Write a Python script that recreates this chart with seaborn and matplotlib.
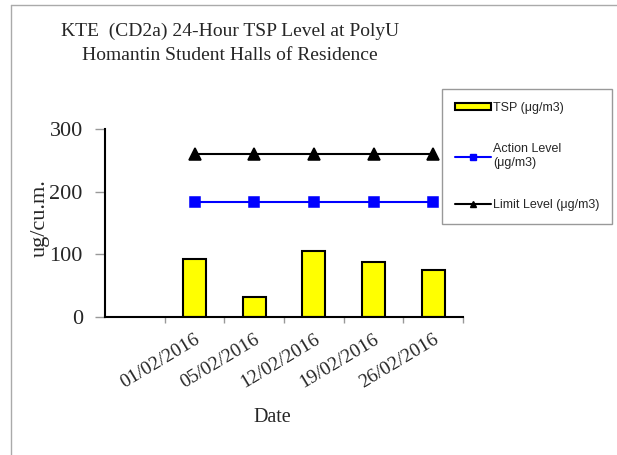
import matplotlib
matplotlib.use("Agg")
import matplotlib.pyplot as plt
import seaborn as sns
import numpy as np
from matplotlib.lines import Line2D
from matplotlib.patches import Patch

dates = ["01/02/2016", "05/02/2016", "12/02/2016", "19/02/2016", "26/02/2016"]
tsp = [93, 32, 106, 88, 75]
action_level = [183, 183, 183, 183, 183]
limit_level = [260, 260, 260, 260, 260]
order = [""] + dates

sns.set_style("white")
plt.rcParams["font.family"] = ["Liberation Serif", "DejaVu Serif"]

fig = plt.figure(figsize=(6.17, 4.55), dpi=100)
ax = fig.add_axes([105/617, 1-317/455, (463-105)/617, (317-129)/455])

sns.barplot(x=dates, y=tsp, order=order, color="#FFFF00", edgecolor="black",
            linewidth=1.5, width=0.39, saturation=1, ax=ax, zorder=2)
sns.pointplot(x=dates, y=action_level, order=order, color="#0000FF", markers="s",
              markersize=7, linewidth=1.5, ax=ax, zorder=3)
sns.pointplot(x=dates, y=limit_level, order=order, color="black", markers="^",
              markersize=8, linewidth=1.5, ax=ax, zorder=3)

ax.set_xlim(-0.5, 5.5)
ax.set_ylim(0, 300)
ax.set_yticks([0, 100, 200, 300])
ax.set_xlabel("")
ax.set_ylabel("")
for s in ["top", "right"]:
    ax.spines[s].set_visible(False)
for s in ["left", "bottom"]:
    ax.spines[s].set_color("black")
    ax.spines[s].set_linewidth(1.5)

ax.tick_params(axis="y", which="major", direction="out", length=7, width=1,
               color="#999999", labelsize=16, pad=9, left=True)
ax.set_xticks(range(len(order)))
ax.set_xticklabels(order, rotation=31, ha="right", rotation_mode="anchor",
                   fontsize=14)
ax.tick_params(axis="x", which="major", length=0, pad=10)
ax.set_xticks(np.arange(0.5, 5.6, 1.0), minor=True)
ax.tick_params(axis="x", which="minor", direction="out", length=4, width=1,
               color="#999999", bottom=True)

# Title and axis labels
fig.text(230/617, 1-23/455,
         "KTE  (CD2a) 24-Hour TSP Level at PolyU\nHomantin Student Halls of Residence",
         ha="center", va="top", fontsize=14, linespacing=1.5)
fig.text(40/617, 1-218/455, "ug/cu.m.", rotation=90, ha="center", va="center",
         fontsize=16)
fig.text(272/617, 1-417/455, "Date", ha="center", va="center", fontsize=14.5)

# Legend
handles = [
    Patch(facecolor="#FFFF00", edgecolor="black", linewidth=1.5),
    Line2D([], [], color="#0000FF", marker="s", markersize=5, linewidth=1.5),
    Line2D([], [], color="black", marker="^", markersize=5, linewidth=1.5),
]
labels = ["TSP (μg/m3)", "Action Level\n(μg/m3)", "Limit Level (μg/m3)"]
leg = fig.legend(handles, labels, loc="upper left",
                 bbox_to_anchor=(442/617, 1-89/455),
                 prop={"family": "Liberation Sans", "size": 9},
                 frameon=True, fancybox=False, edgecolor="#999999",
                 framealpha=1, handlelength=2.9, handleheight=0.5,
                 labelspacing=2.4, borderpad=1.0, handletextpad=0.2,
                 borderaxespad=0)
leg.get_frame().set_linewidth(1)

# Outer chart border (left and top)
fig.add_artist(Line2D([11/617, 11/617], [0, 1-5/455], transform=fig.transFigure,
                      color="#aaaaaa", linewidth=1))
fig.add_artist(Line2D([11/617, 1], [1-5/455, 1-5/455], transform=fig.transFigure,
                      color="#aaaaaa", linewidth=1))

fig.savefig("out.png", dpi=100, facecolor="white")
